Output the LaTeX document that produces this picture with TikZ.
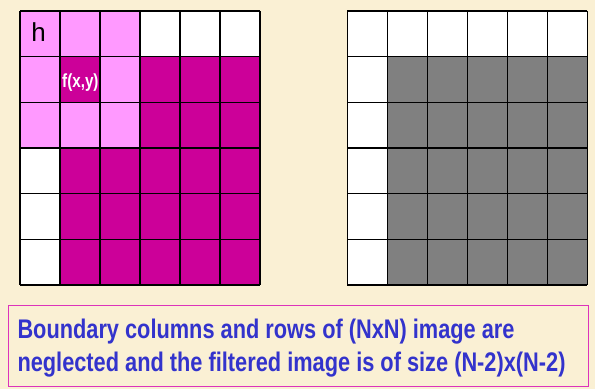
\documentclass[tikz,border=0pt]{standalone}
\usepackage{fontspec}
\setmainfont{Liberation Sans}
\definecolor{parch}{RGB}{250,240,212}
\definecolor{lpink}{RGB}{255,153,255}
\definecolor{mag}{RGB}{204,0,153}
\definecolor{gry}{RGB}{128,128,128}
\definecolor{txtblue}{RGB}{51,51,204}
\definecolor{boxmag}{RGB}{221,51,187}
\tikzset{
  gridline/.style={black, line width=1.2pt},
  label/.style={inner sep=0pt, anchor=base},
  notebox/.style={draw=boxmag, line width=0.9pt, inner sep=0pt, anchor=north west},
  notetext/.style={inner sep=0pt, anchor=base west, text=txtblue, font=\bfseries}
}
\begin{document}
\begin{tikzpicture}[x=1pt,y=-1pt]
\fill[parch] (0,0) rectangle (595,389);
\useasboundingbox (0,0) rectangle (595,389);
% left grid
\fill[white] (20,11) rectangle (260,285);
\fill[mag] (60.3,56.7) rectangle (260,285);
\fill[lpink] (20,11) rectangle (140.7,148);
\fill[mag] (60.3,56.7) rectangle (100.5,102.3);
\foreach \i in {0,...,6} \draw[gridline] ({20+40*\i},11) -- ({20+40*\i},285);
\foreach \j in {0,...,6} \draw[gridline] (20,{11+45.667*\j}) -- (260,{11+45.667*\j});
% right grid
\fill[white] (347.3,11) rectangle (587.3,285);
\fill[gry] (387.3,56.7) rectangle (587.3,285);
\foreach \i in {0,...,6} \draw[gridline] ({347.3+40*\i},11) -- ({347.3+40*\i},285);
\foreach \j in {0,...,6} \draw[gridline] (347.3,{11+45.667*\j}) -- (587.3,{11+45.667*\j});
% labels
\node[label, font=\fontsize{26}{26}\selectfont] (h) at (38.5,41) {h};
\node[label, text=white, font=\fontsize{19}{19}\selectfont\bfseries] (f) at (80.4,87) {\scalebox{0.8}[1]{f(x,y)}};
% note box
\node[notebox, minimum width=579.7pt, minimum height=81.3pt] (note) at (8,304.7) {};
\node[notetext] (l1) at (17.3,338.5) {\resizebox{497pt}{19.5pt}{Boundary columns and rows of (NxN) image are}};
\node[notetext] (l2) at (17.3,371.5) {\resizebox{548pt}{19.5pt}{neglected and the filtered image is of size (N-2)x(N-2)}};
\end{tikzpicture}
\end{document}
